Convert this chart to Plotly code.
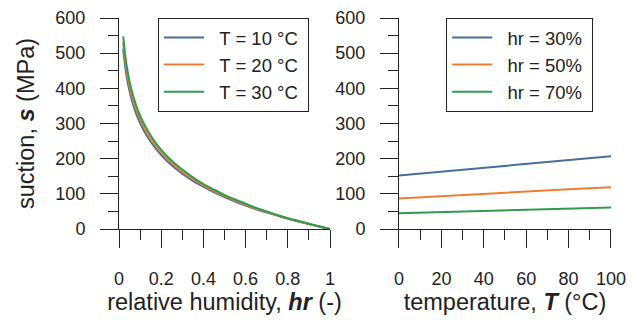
import plotly.graph_objects as go

# ---- data ----
hr_vals = [0.02, 0.03, 0.04, 0.05, 0.06, 0.08, 0.10, 0.12, 0.15, 0.20, 0.25, 0.30, 0.35,
           0.40, 0.45, 0.50, 0.55, 0.60, 0.65, 0.70, 0.75, 0.80, 0.85, 0.90, 0.95, 1.00]
s_T10 = [512, 459, 421, 392, 368, 330, 301, 277, 248, 210, 181, 157, 137,
         120, 104, 91, 78, 67, 56, 47, 38, 29, 21, 14, 7, 0]
s_T20 = [530, 475, 436, 406, 381, 342, 312, 287, 257, 218, 188, 163, 142,
         124, 108, 94, 81, 69, 58, 48, 39, 30, 22, 14, 7, 0]
s_T30 = [548, 491, 451, 419, 394, 354, 322, 297, 266, 225, 194, 169, 147,
         128, 112, 97, 84, 72, 60, 50, 40, 31, 23, 15, 7, 0]

temp_vals = [0, 20, 40, 60, 80, 100]
s_hr30 = [152, 163, 174, 185, 196, 207]
s_hr50 = [87, 94, 100, 106, 113, 119]
s_hr70 = [45, 48, 51, 54, 58, 61]

left_names = ["T = 10 °C", "T = 20 °C", "T = 30 °C"]
right_names = ["hr = 30%", "hr = 50%", "hr = 70%"]

colors = ["#466e9e", "#ef7d31", "#2e9c4c"]
FONT = "Liberation Sans, Arial, sans-serif"
NB = "\u00a0\u00a0"

fig = go.Figure()
for name, ys, c in zip(left_names, [s_T10, s_T20, s_T30], colors):
    fig.add_trace(go.Scatter(x=hr_vals, y=ys, mode="lines", name=NB + name + "\u00a0",
                             line=dict(color=c, width=2, shape="spline"),
                             xaxis="x", yaxis="y", legend="legend"))
for name, ys, c in zip(right_names, [s_hr30, s_hr50, s_hr70], colors):
    fig.add_trace(go.Scatter(x=temp_vals, y=ys, mode="lines", name=NB + name + "\u00a0",
                             line=dict(color=c, width=2),
                             xaxis="x2", yaxis="y2", legend="legend2"))

axis_common = dict(showline=True, linecolor="#222", linewidth=1, showgrid=False,
                   zeroline=False, ticks="outside", ticklen=18, tickwidth=1,
                   tickcolor="#222", automargin=False,
                   tickfont=dict(size=18, color="#222", family=FONT))

fig.update_layout(
    width=638, height=320,
    margin=dict(l=119, r=27, t=18, b=91),
    paper_bgcolor="white", plot_bgcolor="white",
    font=dict(family=FONT, color="#222"),
    xaxis=dict(domain=[0, 0.4289], range=[0, 1], dtick=0.2, anchor="y",
               minor=dict(dtick=0.1, ticks="outside", ticklen=10, tickcolor="#222"),
               ticklabelstandoff=15,
               title=dict(text="relative humidity, <b><i>hr</i></b> (-)",
                          font=dict(size=23.5), standoff=3),
               **axis_common),
    yaxis=dict(domain=[0, 1], range=[0, 600], dtick=100, anchor="x",
               minor=dict(dtick=50, ticks="outside", ticklen=10, tickcolor="#222"),
               ticklabelstandoff=11,
               title=dict(text="suction, <b><i>s</i></b> (MPa)",
                          font=dict(size=23.5), standoff=14),
               **axis_common),
    xaxis2=dict(domain=[0.5691, 1], range=[0, 100], dtick=20, anchor="y2",
                minor=dict(dtick=10, ticks="outside", ticklen=10, tickcolor="#222"),
                ticklabelstandoff=15,
                title=dict(text="temperature, <b><i>T</i></b> (°C)",
                           font=dict(size=23.5), standoff=3),
                **axis_common),
    yaxis2=dict(domain=[0, 1], range=[0, 600], dtick=100, anchor="x2",
                minor=dict(dtick=50, ticks="outside", ticklen=10, tickcolor="#222"),
                ticklabelstandoff=11,
                **axis_common),
    legend=dict(x=0.0793, y=1.0, xanchor="left", yanchor="top",
                bordercolor="#222", borderwidth=1, bgcolor="white",
                font=dict(size=18.5, family=FONT, color="#222"), itemwidth=40),
    legend2=dict(x=0.665, y=1.0, xanchor="left", yanchor="top",
                 bordercolor="#222", borderwidth=1, bgcolor="white",
                 font=dict(size=18.5, family=FONT, color="#222"), itemwidth=40),
)

fig.write_html("out.html", config={"displayModeBar": False},
               post_script="document.body.style.margin='0';document.body.style.padding='0';")
